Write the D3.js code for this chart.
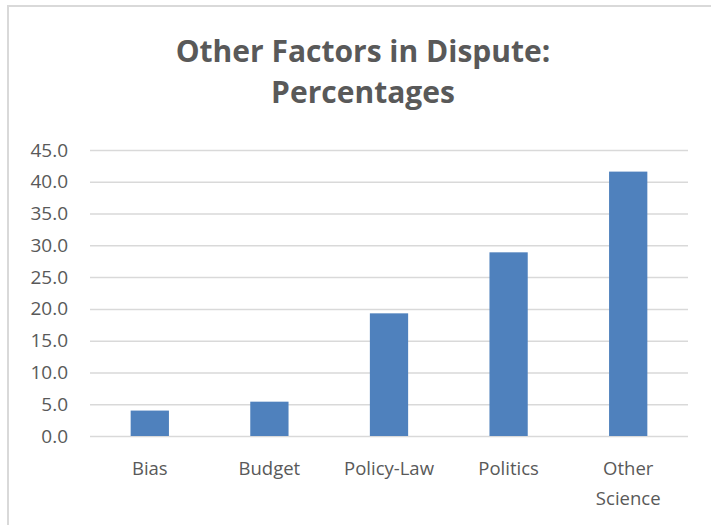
<!DOCTYPE html>
<html>
<head>
<meta charset="utf-8">
<script src="https://cdn.jsdelivr.net/npm/d3@7"></script>
<style>
  body { margin: 0; background: #fff; }
  text { font-family: "Open Sans", "Noto Sans", sans-serif; fill: #595959; }
</style>
</head>
<body>
<div id="chart"></div>
<script>
// Data
var categories = ["Bias", "Budget", "Policy-Law", "Politics", "Other Science"];
var values = [4.0, 5.4, 19.3, 28.9, 41.6];
var yTicks = [0, 5, 10, 15, 20, 25, 30, 35, 40, 45];
var titleLines = ["Other Factors in Dispute:", "Percentages"];

var W = 711, H = 525;
var margin = {top: 150, right: 23, bottom: 89, left: 90},
    width = W - margin.left - margin.right,
    height = H - margin.top - margin.bottom;

var svg = d3.select("#chart").append("svg")
    .attr("width", W)
    .attr("height", H);

// chart area border (only left and top visible in the crop)
svg.append("path")
  .attr("d", "M8,525 V6 H711")
  .attr("fill", "none")
  .attr("stroke", "#d9d9d9")
  .attr("stroke-width", 2);

// Title
svg.append("text")
  .attr("x", 363)
  .attr("y", 62)
  .attr("text-anchor", "middle")
  .style("font-weight", "bold")
  .style("font-size", "30px")
  .selectAll("tspan")
  .data(titleLines)
  .enter().append("tspan")
    .attr("x", 363)
    .attr("dy", function(d, i) { return i === 0 ? 0 : 41; })
    .text(function(d) { return d; });

var g = svg.append("g")
  .attr("transform", "translate(" + margin.left + "," + margin.top + ")");

var x = d3.scaleBand()
  .domain(categories)
  .range([0, width])
  .paddingInner(0.68)
  .paddingOuter(0.34);

var y = d3.scaleLinear()
  .domain([0, 45])
  .range([height, 0]);

// gridlines + y labels
var yAxis = g.append("g")
  .call(d3.axisLeft(y).tickValues(yTicks).tickSize(-width).tickPadding(22)
    .tickFormat(d3.format(".1f")));
yAxis.select(".domain").remove();
yAxis.selectAll("line").attr("stroke", "#d9d9d9").attr("stroke-width", 1.5);
yAxis.selectAll("text").style("font-size", "19px").attr("fill", "#595959");

// bars
g.selectAll(".bar")
  .data(values)
  .enter().append("rect")
    .attr("class", "bar")
    .attr("x", function(d, i) { return x(categories[i]); })
    .attr("y", function(d) { return y(d); })
    .attr("width", x.bandwidth())
    .attr("height", function(d) { return height - y(d); })
    .attr("fill", "#4f81bd");

// x labels (wrap "Other Science")
var xAxis = g.append("g")
  .attr("transform", "translate(0," + height + ")")
  .call(d3.axisBottom(x).tickSize(0).tickPadding(0).tickFormat(""));
xAxis.select(".domain").remove();

var xl = g.selectAll(".xlabel")
  .data(categories)
  .enter().append("text")
    .attr("class", "xlabel")
    .attr("text-anchor", "middle")
    .style("font-size", "18.5px")
    .attr("transform", function(d) {
      return "translate(" + (x(d) + x.bandwidth() / 2) + "," + (height + 39) + ")";
    });
xl.selectAll("tspan")
  .data(function(d) { return d === "Other Science" ? ["Other", "Science"] : [d]; })
  .enter().append("tspan")
    .attr("x", 0)
    .attr("dy", function(d, i) { return i === 0 ? 0 : 30; })
    .text(function(d) { return d; });
</script>
</body>
</html>
